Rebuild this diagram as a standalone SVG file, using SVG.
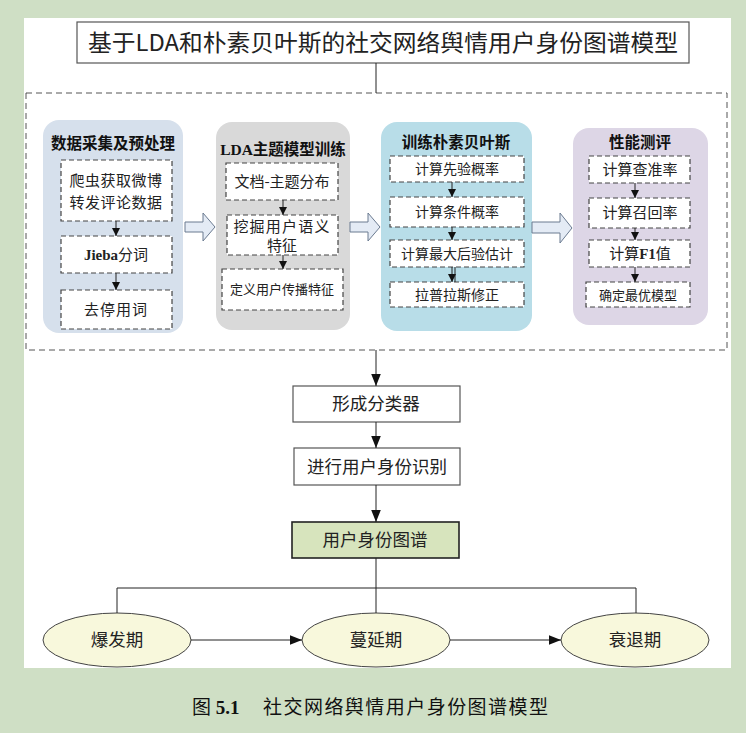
<svg xmlns="http://www.w3.org/2000/svg" width="746" height="733" viewBox="0 0 746 733">
<defs>
<style>
.cj{font-family:"Noto Sans CJK SC",sans-serif;fill:#222;text-anchor:middle;font-size:14px}
.h{font-family:"Liberation Serif","Noto Sans CJK SC",serif;font-weight:bold;fill:#111;text-anchor:middle;font-size:15.5px}
.m{font-size:17.5px}
.ib{fill:#fff;stroke:#444;stroke-width:1.2;stroke-dasharray:5,3}
.bx{fill:#fff;stroke:#555;stroke-width:1.2}
.ln{stroke:#222;stroke-width:1;fill:none}
.ba{fill:#e4ebf5;stroke:#6a7a90;stroke-width:1}
.el{fill:#f8f8dc;stroke:#444;stroke-width:1}
</style>
<marker id="ah" viewBox="0 0 10 10" refX="10" refY="5" markerWidth="8" markerHeight="8" orient="auto" markerUnits="userSpaceOnUse"><path d="M0,0 L10,5 L0,10 z" fill="#111"/></marker>
<marker id="ah2" viewBox="0 0 10 10" refX="10" refY="5" markerWidth="12" markerHeight="12" orient="auto" markerUnits="userSpaceOnUse"><path d="M0,1 L10,5 L0,9 z" fill="#111"/></marker>
</defs>
<rect x="0" y="0" width="746" height="733" fill="#cfdfc5"/>
<rect x="24" y="18" width="707" height="650" fill="#fff"/>

<g id="title">
<rect x="77" y="22" width="612" height="41" class="bx" stroke-width="1.4"/>
<text x="383" y="51" class="cj" style="font-size:23px" textLength="590" lengthAdjust="spacingAndGlyphs">基于LDA和朴素贝叶斯的社交网络舆情用户身份图谱模型</text>
</g>

<rect id="stage" x="26" y="93" width="701" height="257" fill="none" stroke="#555" stroke-width="1" stroke-dasharray="6,4"/>

<g id="g1">
<rect x="43" y="120" width="140" height="213" rx="16" fill="#d6e0ec"/>
<text x="113" y="149" class="h">数据采集及预处理</text>
<rect x="61" y="160" width="111" height="61" class="ib"/>
<text x="116" y="186" class="cj" style="font-size:15px" letter-spacing="0.5">爬虫获取微博</text>
<text x="116" y="208" class="cj" style="font-size:15px" letter-spacing="0.5">转发评论数据</text>
<rect x="61" y="236" width="111" height="37" class="ib"/>
<text x="116" y="260" class="cj" style="font-size:15px"><tspan font-family="Liberation Serif" font-weight="bold">Jieba</tspan>分词</text>
<rect x="61" y="290" width="111" height="39" class="ib"/>
<text x="116" y="315" class="cj" style="font-size:15px" letter-spacing="1">去停用词</text>
</g>

<g id="g2">
<rect x="216" y="122" width="134" height="208" rx="16" fill="#d9d9d9"/>
<text x="283" y="155" class="h">LDA主题模型训练</text>
<rect x="226" y="163" width="112" height="37" class="ib"/>
<text x="282" y="187" class="cj" style="font-size:15px">文档-主题分布</text>
<rect x="227" y="215" width="111" height="40" class="ib"/>
<text x="282" y="232" class="cj" style="font-size:15px" letter-spacing="1.2">挖掘用户语义</text>
<text x="282" y="251" class="cj" style="font-size:15px">特征</text>
<rect x="222" y="269" width="121" height="41" class="ib"/>
<text x="282" y="294" class="cj" style="font-size:13px">定义用户传播特征</text>
</g>

<g id="g3">
<rect x="381" y="122" width="151" height="209" rx="16" fill="#b8dde8"/>
<text x="456" y="148" class="h">训练朴素贝叶斯</text>
<rect x="390" y="156" width="134" height="26" class="ib"/>
<text x="457" y="174" class="cj">计算先验概率</text>
<rect x="390" y="197" width="134" height="30" class="ib"/>
<text x="457" y="217" class="cj">计算条件概率</text>
<rect x="390" y="240" width="134" height="27" class="ib"/>
<text x="457" y="259" class="cj">计算最大后验估计</text>
<rect x="390" y="282" width="134" height="25" class="ib"/>
<text x="457" y="300" class="cj">拉普拉斯修正</text>
</g>

<g id="g4">
<rect x="573" y="128" width="135" height="197" rx="16" fill="#ddd6e6"/>
<text x="640" y="148" class="h">性能测评</text>
<rect x="589" y="156" width="101" height="27" class="ib"/>
<text x="640" y="175" class="cj" style="font-size:15px">计算查准率</text>
<rect x="589" y="198" width="101" height="30" class="ib"/>
<text x="640" y="218" class="cj" style="font-size:15px">计算召回率</text>
<rect x="589" y="240" width="101" height="27" class="ib"/>
<text x="640" y="259" class="cj" style="font-size:15px">计算<tspan font-family="Liberation Serif" font-weight="bold">F1</tspan>值</text>
<rect x="586" y="282" width="104" height="25" class="ib"/>
<text x="638" y="300" class="cj" style="font-size:13px">确定最优模型</text>
</g>

<g id="n_classifier">
<rect x="293" y="386" width="167" height="36" class="bx"/>
<text x="376" y="410" class="cj m">形成分类器</text>
</g>
<g id="n_identify">
<rect x="294" y="448" width="166" height="37" class="bx"/>
<text x="377" y="473" class="cj m">进行用户身份识别</text>
</g>
<g id="n_graph">
<rect x="292" y="522" width="167" height="36" fill="#d7e4bd" stroke="#222" stroke-width="1.6"/>
<text x="375" y="546" class="cj m">用户身份图谱</text>
</g>

<g id="e1">
<ellipse cx="117" cy="640" rx="74" ry="27" class="el"/>
<text x="117" y="646" class="cj m">爆发期</text>
</g>
<g id="e2">
<ellipse cx="376" cy="640" rx="74" ry="27" class="el"/>
<text x="376" y="646" class="cj m">蔓延期</text>
</g>
<g id="e3">
<ellipse cx="635" cy="640" rx="74" ry="27" class="el"/>
<text x="635" y="646" class="cj m">衰退期</text>
</g>

<g id="connectors">
<line x1="376" y1="63" x2="376" y2="93" class="ln"/>
<line x1="116" y1="221" x2="116" y2="236" class="ln" marker-end="url(#ah)"/>
<line x1="116" y1="273" x2="116" y2="290" class="ln" marker-end="url(#ah)"/>
<line x1="283" y1="200" x2="283" y2="215" class="ln" marker-end="url(#ah)"/>
<line x1="283" y1="255" x2="283" y2="269" class="ln" marker-end="url(#ah)"/>
<line x1="452" y1="182" x2="452" y2="197" class="ln" marker-end="url(#ah)"/>
<line x1="452" y1="227" x2="452" y2="240" class="ln" marker-end="url(#ah)"/>
<line x1="452" y1="267" x2="452" y2="282" class="ln" marker-end="url(#ah)"/>
<line x1="455" y1="267" x2="455" y2="282" class="ln"/>
<line x1="635" y1="183" x2="635" y2="198" class="ln" marker-end="url(#ah)"/>
<line x1="635" y1="228" x2="635" y2="240" class="ln" marker-end="url(#ah)"/>
<line x1="635" y1="267" x2="635" y2="282" class="ln" marker-end="url(#ah)"/>
<path d="M185,222 H203 V213 L215,227 L203,241 V232 H185 Z" class="ba"/>
<path d="M350,222 H368 V213 L380,227 L368,241 V232 H350 Z" class="ba"/>
<path d="M532,222 H560 V213 L572,228 L560,243 V233 H532 Z" class="ba"/>
<line x1="376" y1="350" x2="376" y2="386" class="ln" marker-end="url(#ah2)"/>
<line x1="376" y1="422" x2="376" y2="448" class="ln" marker-end="url(#ah2)"/>
<line x1="376" y1="485" x2="376" y2="522" class="ln" marker-end="url(#ah2)"/>
<line x1="376" y1="558" x2="376" y2="613" class="ln"/>
<path d="M117,613 V588 H636 V613" class="ln"/>
<line x1="191" y1="640" x2="302" y2="640" class="ln" marker-end="url(#ah2)"/>
<line x1="450" y1="640" x2="561" y2="640" class="ln" marker-end="url(#ah2)"/>
</g>

<text x="192" y="714" style="font-family:'Liberation Serif','Noto Sans CJK SC',serif;font-size:19px;fill:#111"><tspan font-family="Noto Sans CJK SC">图</tspan><tspan font-weight="bold"> 5.1</tspan><tspan x="263" font-family="Noto Sans CJK SC" textLength="285" lengthAdjust="spacing">社交网络舆情用户身份图谱模型</tspan></text>
</svg>
